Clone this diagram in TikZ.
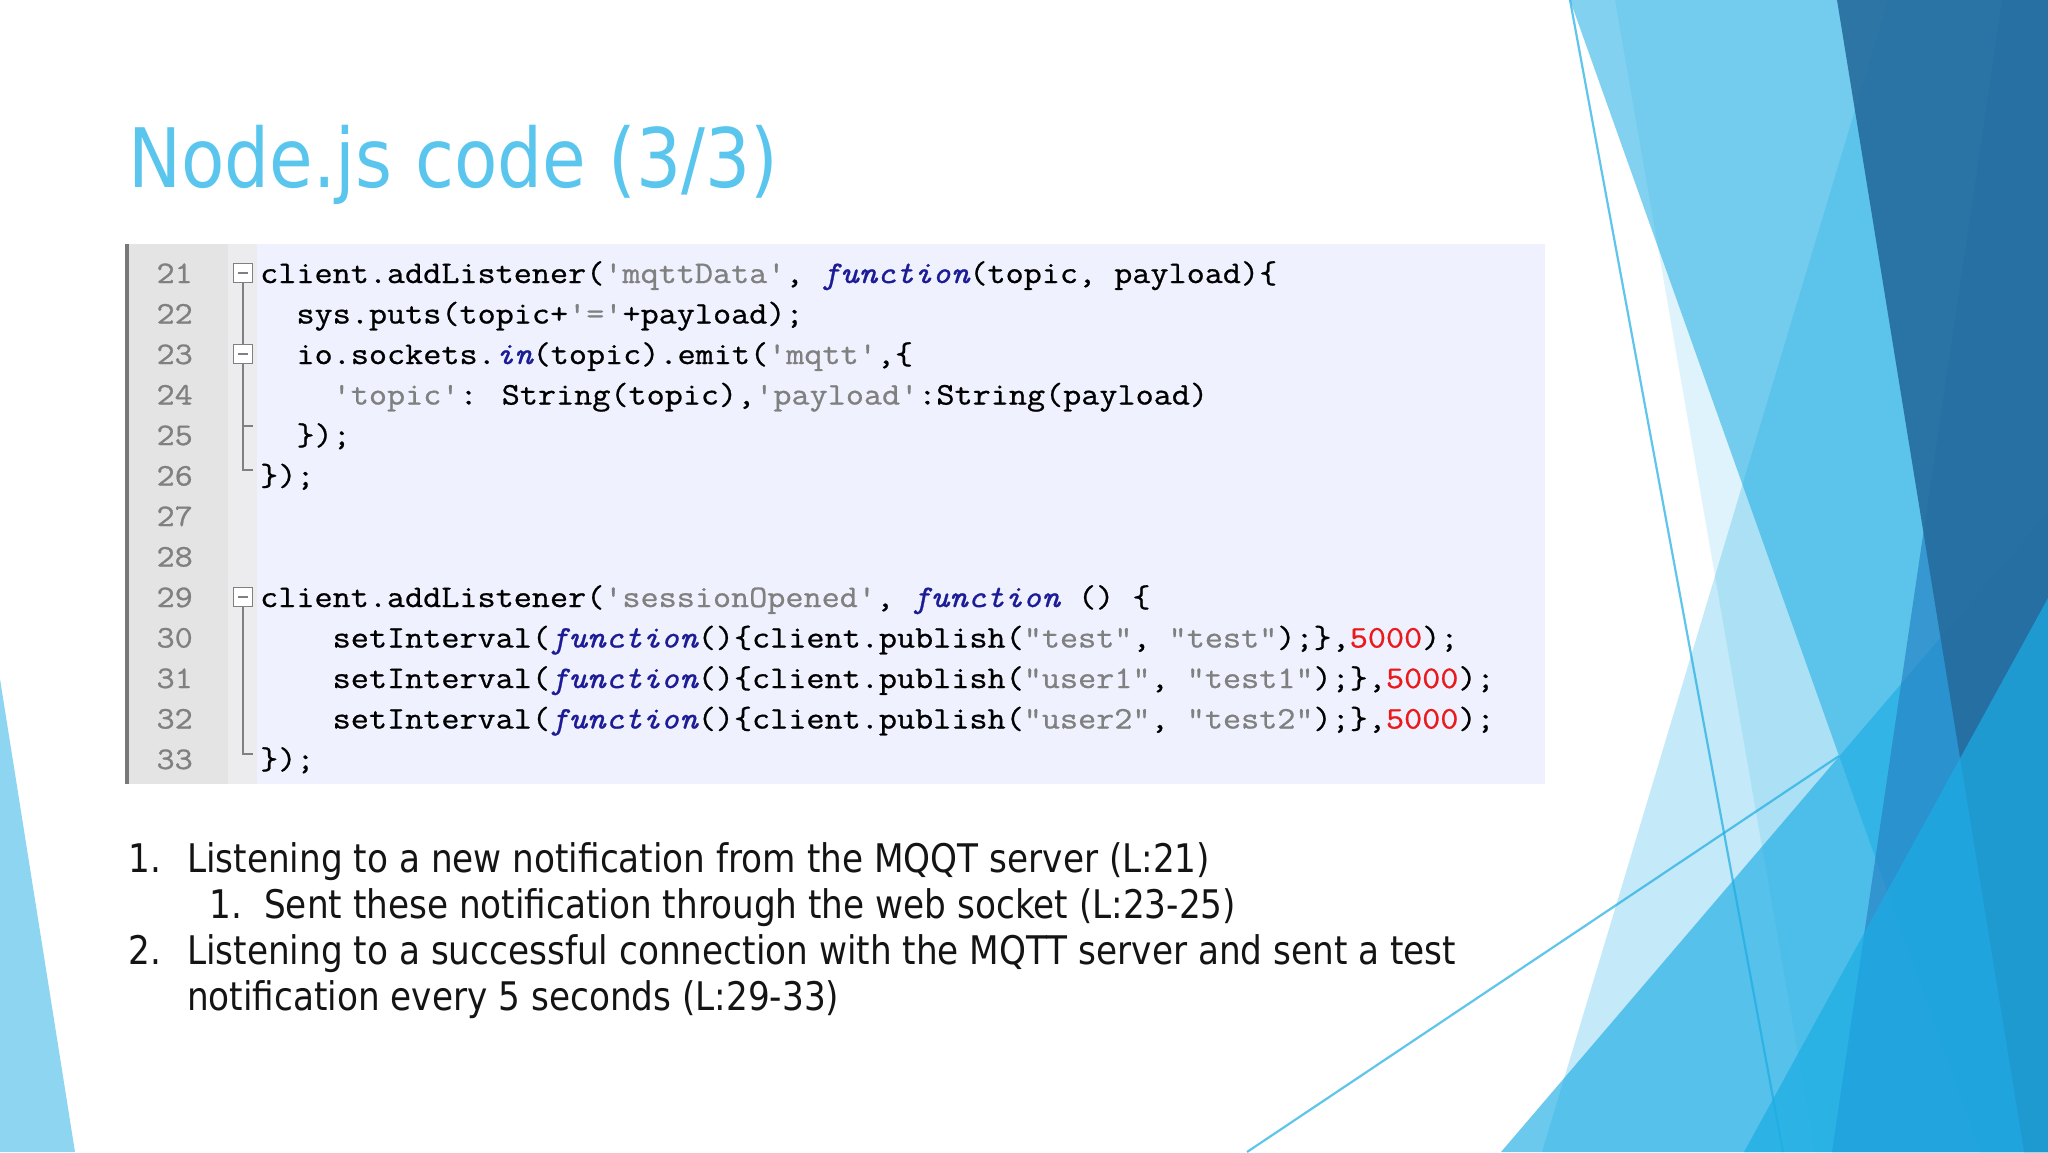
\documentclass[tikz,border=0pt]{standalone}
\usepackage{fontspec}
\newfontfamily\codefont{Latin Modern Mono}[FakeStretch=1.12, FakeBold=0.8, Ligatures=TeXOff]
\newfontfamily\bodyfont{DejaVu Sans}[FakeStretch=0.87]
\newfontfamily\titlefont{DejaVu Sans}[FakeStretch=0.865]
\definecolor{acc}{RGB}{28,173,228}
\definecolor{acctwo}{RGB}{38,131,198}
\definecolor{darkacc}{RGB}{37,108,158}
\definecolor{titlecol}{RGB}{90,198,238}
\definecolor{bodytext}{RGB}{20,20,20}
\definecolor{codebg}{RGB}{239,242,254}
\definecolor{guttercol}{RGB}{228,228,228}
\definecolor{foldbg}{RGB}{236,236,238}
\definecolor{bordergray}{RGB}{120,120,120}
\definecolor{lngray}{RGB}{128,128,128}
\definecolor{strcol}{RGB}{128,128,128}
\definecolor{kwcol}{RGB}{28,28,150}
\definecolor{numcol}{RGB}{235,25,25}
\definecolor{foldgray}{RGB}{128,128,128}
\newcommand{\cstr}[1]{\textcolor{strcol}{#1}}
\newcommand{\ckw}[1]{{\itshape\textcolor{kwcol}{#1}}}
\newcommand{\cnum}[1]{\textcolor{numcol}{#1}}
\tikzset{
  codeline/.style={anchor=base west, inner sep=0pt, text=black, font=\codefont\fontsize{31.4}{36}\selectfont},
  lnum/.style={anchor=base east, inner sep=0pt, text=lngray, font=\codefont\fontsize{31.4}{36}\selectfont},
  btext/.style={anchor=base west, inner sep=0pt, text=bodytext, font=\bodyfont\fontsize{39.4}{46}\selectfont},
  foldbox/.style={draw=foldgray, fill=white, minimum size=19pt, inner sep=0pt, line width=1.3pt},
  foldline/.style={draw=foldgray, line width=1.3pt},
  thinline/.style={draw=acc, opacity=0.7, line width=2.2pt}
}
\begin{document}
\begin{tikzpicture}[x=1pt,y=-1pt]
\fill[white] (0,0) rectangle (2048,1152);
\useasboundingbox (0,0) rectangle (2048,1152);

% left decoration
\fill[acc, opacity=0.5] (0,679) -- (75,1152) -- (0,1152) -- cycle;

% right decoration
\fill[acc, opacity=0.14] (1615,0) -- (2048,0) -- (2048,1152) -- (1815,1152) -- cycle;
\fill[acc, opacity=0.26] (1888,0) -- (2048,0) -- (2048,1152) -- (1542,1152) -- cycle;
\fill[acc, opacity=0.55] (1570,0) -- (2048,0) -- (2048,1152) -- (1980,1152) -- cycle;
\draw[thinline] (1570,0) -- (1783,1152);
\draw[thinline] (1247,1152) -- (1839,756);
\fill[acc, opacity=0.65] (1501,1152) -- (2048,512) -- (2048,1152) -- cycle;
\fill[acctwo, opacity=0.69] (2002,0) -- (2048,0) -- (2048,1152) -- (1832,1152) -- cycle;
\fill[darkacc, opacity=0.9] (1837,0) -- (2048,0) -- (2048,1152) -- (2024,1152) -- cycle;
\fill[acc, opacity=0.7] (2048,598) -- (2048,1152) -- (1744,1152) -- cycle;

% title
\node[anchor=base west, inner sep=0pt, text=titlecol, font=\titlefont\fontsize{82}{90}\selectfont] (title) at (128,187) {Node.js code (3/3)};

% code box
\fill[codebg] (125,244) rectangle (1545,784);
\fill[guttercol] (125,244) rectangle (228,784);
\fill[foldbg] (228,244) rectangle (257,784);
\fill[bordergray] (125,244) rectangle (129,784);

\foreach \i in {21,...,33} {
  \node[lnum] (n\i) at (193, {283+40.5*(\i-21)}) {\i};
}

\node[codeline] (c21) at (260,283) {client.addListener(\cstr{'mqttData'}, \ckw{function}(topic, payload)\{};
\node[codeline] (c22) at (296.3,323.5) {sys.puts(topic+\cstr{'='}+payload);};
\node[codeline] (c23) at (296.3,364) {io.sockets.\ckw{in}(topic).emit(\cstr{'mqtt'},\{};
\node[codeline] (c24) at (332.5,404.5) {\cstr{'topic'}: String(topic),\cstr{'payload'}:String(payload)};
\node[codeline] (c25) at (296.3,445) {\});};
\node[codeline] (c26) at (260,485.5) {\});};
\node[codeline] (c29) at (260,607) {client.addListener(\cstr{'sessionOpened'}, \ckw{function} () \{};
\node[codeline] (c30) at (332.5,647.5) {setInterval(\ckw{function}()\{client.publish(\cstr{"test"}, \cstr{"test"});\},\cnum{5000});};
\node[codeline] (c31) at (332.5,688) {setInterval(\ckw{function}()\{client.publish(\cstr{"user1"}, \cstr{"test1"});\},\cnum{5000});};
\node[codeline] (c32) at (332.5,728.5) {setInterval(\ckw{function}()\{client.publish(\cstr{"user2"}, \cstr{"test2"});\},\cnum{5000});};
\node[codeline] (c33) at (260,769) {\});};

% fold markers
\coordinate (e26) at (253,470);
\coordinate (k26) at (243,470);
\coordinate (e25) at (253,426);
\coordinate (k25) at (243,426);
\coordinate (e33) at (253,754);
\coordinate (k33) at (243,754);
\draw[foldline] (243,273) -- (k26) -- (e26);
\draw[foldline] (k25) -- (e25);
\draw[foldline] (243,597) -- (k33) -- (e33);
\node[foldbox] (f21) at (243,273) {};
\node[foldbox] (f23) at (243,354) {};
\node[foldbox] (f29) at (243,597) {};
\foreach \f in {f21,f23,f29} {
  \draw[foldline] ([xshift=-5pt]\f.center) -- ([xshift=5pt]\f.center);
}

% bullets
\node[btext] (b1n) at (128,872) {1.};
\node[btext] (b1) at (187,872) {Listening to a new notification from the MQQT server (L:21)};
\node[btext] (b11n) at (209,918) {1.};
\node[btext] (b11) at (264,918) {Sent these notification through the web socket (L:23-25)};
\node[btext] (b2n) at (128,964) {2.};
\node[btext] (b2) at (187,964) {Listening to a successful connection with the MQTT server and sent a test};
\node[btext] (b2b) at (187,1010) {notification every 5 seconds (L:29-33)};
\end{tikzpicture}
\end{document}
